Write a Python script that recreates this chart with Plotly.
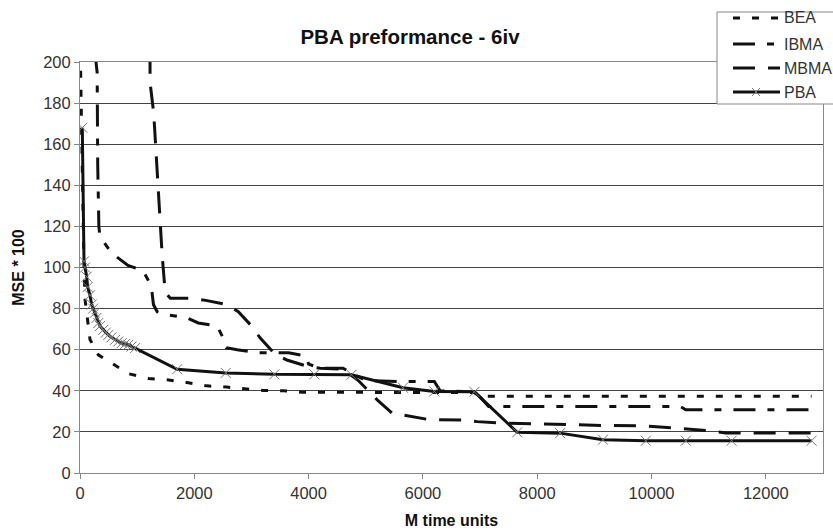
import plotly.graph_objects as go

# ---------------- data ----------------
bea_x = [5, 20, 45, 70, 90, 135, 175, 320, 600, 850, 1200, 1550, 1870, 2220, 2570,
         2860, 3200, 3560, 3900, 5500, 6900, 7000, 12800]
bea_y = [205, 180, 130, 100, 84, 74, 65, 57.5, 52.5, 48.3, 46, 45.3, 44, 42.4, 41.8,
         41, 40.2, 40, 39.3, 39.2, 39.2, 37.3, 37.3]

ibma_x = [260, 300, 310, 330, 350, 555, 840, 1100, 1230, 1260, 1285, 1350, 1520, 1870,
          2070, 2400, 2500, 2560, 2750, 3100, 3650, 3950, 4000, 4200, 4600, 4800, 5000,
          5600, 6200, 6300, 6900, 7000, 7150, 10500, 10600, 12800]
ibma_y = [205, 195, 150, 120, 115, 107, 101, 98.5, 92, 88, 82, 78.5, 77, 75.5,
          73, 71.5, 66, 61, 60, 58.5, 58.5, 57, 53, 51, 51, 48, 45,
          44.5, 44.5, 40, 39.5, 37, 32.4, 32.4, 30.8, 30.8]

mbma_x = [1225, 1226, 1290, 1320, 1350, 1380, 1410, 1440, 1470, 1490, 1580, 1960, 2200,
          2570, 2770, 3010, 3150, 3420, 3620, 3970, 4200, 4600, 4870, 5200, 5460, 5720,
          6100, 6700, 6950, 7330, 7900, 8640, 9200, 9800, 10400, 11000, 11300, 12800]
mbma_y = [205, 190, 175, 160, 145, 130, 118, 105, 95, 88, 85, 85, 84,
          82, 78.5, 71.3, 65.8, 57.5, 55, 52, 51, 50.5, 45, 35.6, 29.2, 28,
          26, 25.8, 25, 24.3, 23.8, 23.5, 23.1, 23, 21.9, 20.6, 19.5, 19.5]

pba_x = [40, 70, 88, 117, 134, 175, 205, 230, 263, 290, 321, 350, 408, 450, 496,
         550, 613, 670, 730, 790, 846, 900, 964, 1700, 2550, 3400, 4100, 4750, 5650,
         6200, 6900, 7650, 8400, 9150, 9900, 10600, 11400, 12800]
pba_y = [168, 103, 100, 95.5, 90.5, 86.5, 82, 80, 78, 75.5, 73, 71.5, 69.7, 68.3, 67.2,
         66, 64.8, 64, 63.2, 62.8, 62.4, 61.5, 60.8, 50.5, 48.7, 48, 48, 47.8, 41.5,
         39.7, 39.5, 19.8, 19.4, 16.2, 15.7, 15.7, 15.7, 15.7]

series_names = ["BEA", "IBMA", "MBMA", "PBA"]
x_ticks = [0, 2000, 4000, 6000, 8000, 10000, 12000]
y_ticks = [0, 20, 40, 60, 80, 100, 120, 140, 160, 180, 200]

FONT = "Liberation Sans, Arial, sans-serif"
INK = "#111111"
MARK = "#777777"
W, H = 833, 531
ML, MR, MT, MB = 80, 10, 62, 58
PW, PH = W - ML - MR, H - MT - MB

dashes = ["7px,12px", "22px,12px,7px,12px", "22px,13px", "solid"]
xs = [bea_x, ibma_x, mbma_x, pba_x]
ys = [bea_y, ibma_y, mbma_y, pba_y]

fig = go.Figure()
for name, xx, yy, dsh in zip(series_names, xs, ys, dashes):
    if name == "PBA":
        fig.add_trace(go.Scatter(x=xx, y=yy, mode="lines+markers", name=name,
                                 line=dict(color=INK, width=3),
                                 marker=dict(symbol="x-thin-open", size=10, color=MARK,
                                             line=dict(width=1, color=MARK))))
    else:
        fig.add_trace(go.Scatter(x=xx, y=yy, mode="lines", name=name,
                                 line=dict(color=INK, width=3, dash=dsh)))


def px2paper(px, py):
    return (px - ML) / PW, (H - MB - py) / PH


# ---- manual legend (box runs off the right edge as in the reference) ----
shapes = []
annotations = []
bx0, by0 = px2paper(717, 12)
bx1, by1 = px2paper(845, 104)
shapes.append(dict(type="rect", xref="paper", yref="paper", x0=bx0, x1=bx1, y0=by1, y1=by0,
                   line=dict(color="#888888", width=1), fillcolor="white", layer="above"))
row_y = [18, 44, 68, 92]
for name, dsh, ry in zip(series_names, dashes, row_y):
    lx0, ly = px2paper(733, ry)
    lx1, _ = px2paper(780, ry)
    shapes.append(dict(type="line", xref="paper", yref="paper", x0=lx0, x1=lx1, y0=ly, y1=ly,
                       line=dict(color=INK, width=3, dash=dsh), layer="above"))
    tx, _ = px2paper(782, ry)
    annotations.append(dict(text=name, xref="paper", yref="paper", x=tx, y=ly,
                            xanchor="left", yanchor="middle", showarrow=False,
                            font=dict(size=16, color="#333333", family=FONT)))
# x marker on the PBA sample
mx, my = 756, 92
for (ax0, ay0, ax1, ay1) in [(mx - 4, my - 4, mx + 4, my + 4), (mx - 4, my + 4, mx + 4, my - 4)]:
    p0 = px2paper(ax0, ay0)
    p1 = px2paper(ax1, ay1)
    shapes.append(dict(type="line", xref="paper", yref="paper", x0=p0[0], y0=p0[1],
                       x1=p1[0], y1=p1[1], line=dict(color=MARK, width=1), layer="above"))

fig.update_layout(
    width=W, height=H,
    margin=dict(l=ML, r=MR, t=MT, b=MB),
    paper_bgcolor="white", plot_bgcolor="white",
    font=dict(family=FONT, size=16, color="#333333"),
    title=dict(text="<b>PBA preformance - 6iv</b>", x=410 / W, xanchor="center",
               xref="container", y=1 - 37 / H, yanchor="middle", yref="container",
               font=dict(size=20.5, color="#111111", family=FONT)),
    showlegend=False,
    shapes=shapes,
    annotations=annotations,
)
fig.update_xaxes(range=[0, 13000], tickvals=x_ticks, ticktext=[str(v) for v in x_ticks],
                 showgrid=False, zeroline=False, showline=True, linecolor="#888888",
                 linewidth=1, mirror=True, ticks="outside", ticklen=5, tickcolor="#888888",
                 tickfont=dict(size=16.5, color="#333333"), automargin=False,
                 title=dict(text="<b>M time units</b>", font=dict(size=16, color="#111111"),
                            standoff=14))
fig.update_yaxes(range=[0, 200], tickvals=y_ticks, ticktext=[str(v) for v in y_ticks],
                 showgrid=True, gridcolor="#444444", gridwidth=1, zeroline=False,
                 showline=True, linecolor="#888888", linewidth=1, mirror=True,
                 ticks="outside", ticklen=5, tickcolor="#888888",
                 tickfont=dict(size=16.5, color="#333333"), automargin=False,
                 title=dict(text="<b>MSE * 100</b>", font=dict(size=16, color="#111111"),
                            standoff=14))

fig.write_html("out.html", config={"displayModeBar": False},
               post_script="document.body.style.margin='0px';document.body.style.overflow='hidden';")
